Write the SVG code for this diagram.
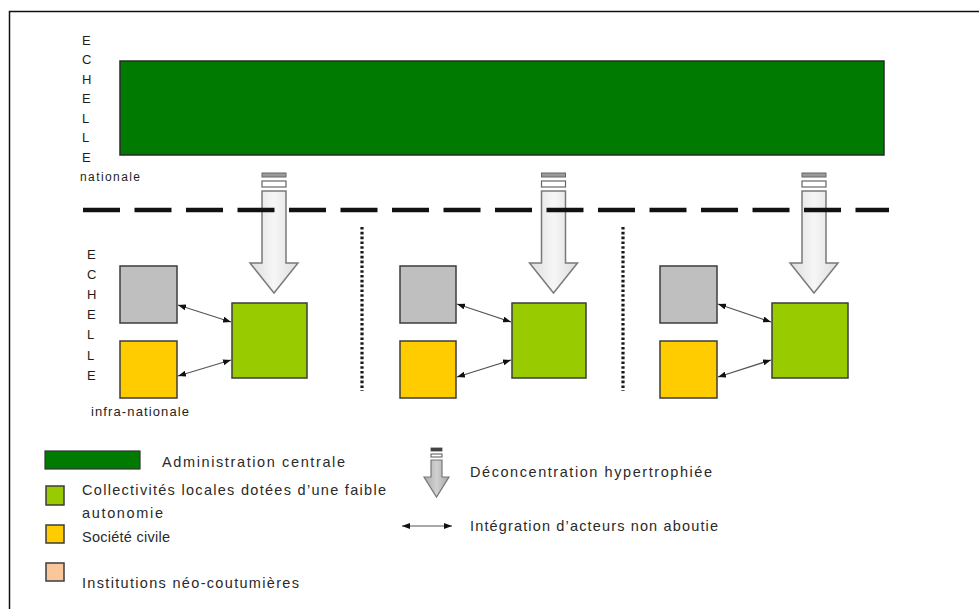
<svg xmlns="http://www.w3.org/2000/svg" width="979" height="609" viewBox="0 0 979 609">
<style>
  .t { font-family: "Liberation Sans", Arial, sans-serif; fill: #2a2a2a; }
  .lg { font-size: 14.5px; }
  .ech { font-size: 13px; fill: #1e1e1e; }
  .box { stroke: #3c3c3c; stroke-width: 1.5; }
  .gray { fill: #bfbfbf; }
  .yellow { fill: #ffcc00; }
  .lgreen { fill: #99cc00; }
  .dgreen { fill: #007a00; }
  .peach { fill: #fac79c; }
  .conn { stroke: #555; stroke-width: 1.2; fill: none; marker-start: url(#ah); marker-end: url(#ah); }
  .barrow { fill: url(#shaft); stroke: #7a7a7a; stroke-width: 1.5; fill-opacity: 0.8; }
  .dots { stroke: #1a1a1a; stroke-width: 3.2; stroke-dasharray: 2.6 2.2; }
</style>
<defs>
  <linearGradient id="shaft" x1="0" y1="0" x2="1" y2="0">
    <stop offset="0" stop-color="#d4d4d4"/>
    <stop offset="0.5" stop-color="#f4f4f4"/>
    <stop offset="1" stop-color="#d4d4d4"/>
  </linearGradient>
  <linearGradient id="shaft2" x1="0" y1="0" x2="1" y2="0">
    <stop offset="0" stop-color="#a8a8a8"/>
    <stop offset="0.5" stop-color="#d0d0d0"/>
    <stop offset="1" stop-color="#a8a8a8"/>
  </linearGradient>
  <marker id="ah" viewBox="0 0 8 6" refX="8" refY="3" markerWidth="8" markerHeight="6" markerUnits="userSpaceOnUse" orient="auto-start-reverse">
    <path d="M0,0 L8,3 L0,6 Z" fill="#111"/>
  </marker>
  <g id="blockArrow">
    <rect x="-12" y="173" width="24" height="4" fill="#9a9a9a" stroke="#666" stroke-width="1"/>
    <rect x="-12" y="181" width="24" height="6" fill="#fff" stroke="#666" stroke-width="1.2"/>
    <path class="barrow" d="M-12,191 H12 V263 H24 L0,293 L-24,263 H-12 Z"/>
  </g>
</defs>

<rect width="979" height="609" fill="#fff"/>
<path d="M9.5,609 V11.5 H979" fill="none" stroke="#111" stroke-width="1.5"/>

<g id="echelle-nationale" class="t ech">
  <text x="82" y="44.5">E</text>
  <text x="82" y="64">C</text>
  <text x="82" y="83.5">H</text>
  <text x="82" y="103">E</text>
  <text x="82" y="122.5">L</text>
  <text x="82" y="142">L</text>
  <text x="82" y="161.5">E</text>
  <text x="80" y="181" font-size="12" textLength="60" lengthAdjust="spacing">nationale</text>
</g>

<g id="admin-centrale">
  <rect class="dgreen" x="120" y="61" width="764" height="94" stroke="#2a2a2a" stroke-width="1.5"/>
</g>

<g id="deconcentration-arrows">
  <use href="#blockArrow" transform="translate(274,0)"/>
  <use href="#blockArrow" transform="translate(553.5,0)"/>
  <use href="#blockArrow" transform="translate(814,0)"/>
</g>

<g id="separators">
  <line x1="83" y1="210" x2="889" y2="210" stroke="#111" stroke-width="4.5" stroke-dasharray="37 14.5"/>
  <line class="dots" x1="362" y1="227" x2="362" y2="391"/>
  <line class="dots" x1="623" y1="227" x2="623" y2="391"/>
</g>

<g id="echelle-infra" class="t ech">
  <text x="87" y="258.5">E</text>
  <text x="87" y="278.5">C</text>
  <text x="87" y="298.5">H</text>
  <text x="87" y="319">E</text>
  <text x="87" y="339">L</text>
  <text x="87" y="359.5">L</text>
  <text x="87" y="379.5">E</text>
  <text x="91" y="416" font-size="13" textLength="98" lengthAdjust="spacing">infra-nationale</text>
</g>

<g id="group1">
  <rect id="g1-neo" class="box gray" x="120" y="266" width="57" height="57"/>
  <rect id="g1-civile" class="box yellow" x="120" y="341" width="57" height="57"/>
  <rect id="g1-collectivites" class="box lgreen" x="232" y="303" width="75" height="75"/>
</g>
<g id="group2">
  <rect id="g2-neo" class="box gray" x="400" y="266" width="56" height="57"/>
  <rect id="g2-civile" class="box yellow" x="400" y="341" width="56" height="57"/>
  <rect id="g2-collectivites" class="box lgreen" x="512" y="303" width="74" height="75"/>
</g>
<g id="group3">
  <rect id="g3-neo" class="box gray" x="660" y="266" width="57" height="57"/>
  <rect id="g3-civile" class="box yellow" x="660" y="341" width="57" height="57"/>
  <rect id="g3-collectivites" class="box lgreen" x="772" y="303" width="76" height="75"/>
</g>

<g id="connectors">
  <line class="conn" x1="178" y1="305" x2="231" y2="322"/>
  <line class="conn" x1="178" y1="376" x2="231" y2="360"/>
  <line class="conn" x1="457" y1="304" x2="511" y2="322"/>
  <line class="conn" x1="457" y1="377" x2="511" y2="360"/>
  <line class="conn" x1="718" y1="304" x2="771" y2="322"/>
  <line class="conn" x1="718" y1="377" x2="771" y2="360"/>
</g>

<g id="legend">
  <g id="leg-admin">
    <rect class="dgreen" x="45" y="451" width="95" height="18" stroke="#333" stroke-width="1.2"/>
    <text class="t lg" x="162" y="467" textLength="183" lengthAdjust="spacing">Administration centrale</text>
  </g>
  <g id="leg-collectivites">
    <rect class="box lgreen" x="46" y="486" width="18" height="19"/>
    <text class="t lg" x="82" y="495" textLength="304" lengthAdjust="spacing">Collectivités locales dotées d’une faible</text>
    <text class="t lg" x="82" y="518" textLength="81" lengthAdjust="spacing">autonomie</text>
  </g>
  <g id="leg-civile">
    <rect class="box yellow" x="46" y="525" width="18" height="18"/>
    <text class="t lg" x="82" y="542" textLength="88" lengthAdjust="spacing">Société civile</text>
  </g>
  <g id="leg-neo">
    <rect class="box peach" x="46" y="563" width="18" height="18"/>
    <text class="t lg" x="82" y="588" textLength="217" lengthAdjust="spacing">Institutions néo-coutumières</text>
  </g>
  <g id="leg-deconcentration">
    <rect x="431" y="448" width="11" height="3" fill="#444" stroke="#444" stroke-width="0.8"/>
    <rect x="431" y="454" width="11" height="3" fill="#fff" stroke="#555" stroke-width="1"/>
    <path d="M431,460 H442 V477 H449 L436.5,497 L424,477 H431 Z" fill="url(#shaft2)" stroke="#777" stroke-width="1.2"/>
    <text class="t lg" x="470" y="477" textLength="242" lengthAdjust="spacing">Déconcentration hypertrophiée</text>
  </g>
  <g id="leg-integration">
    <line class="conn" x1="402" y1="526" x2="452" y2="526"/>
    <text class="t lg" x="470" y="531" textLength="248" lengthAdjust="spacing">Intégration d’acteurs non aboutie</text>
  </g>
</g>
</svg>
